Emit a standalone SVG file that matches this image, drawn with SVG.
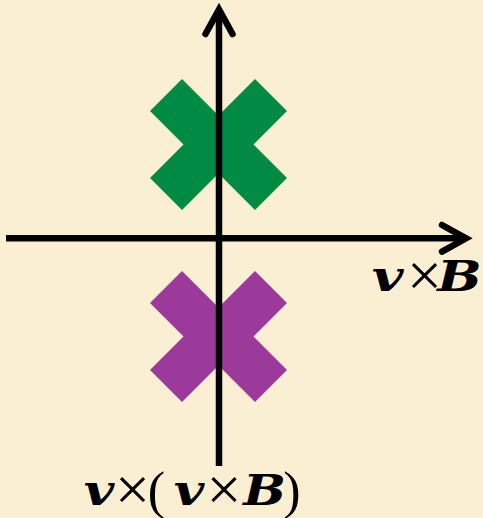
<svg xmlns="http://www.w3.org/2000/svg" width="483" height="518" viewBox="0 0 483 518">
<defs>
<style>
.bg{fill:#faefd3}
.axis{fill:none;stroke:#000;stroke-width:6.5}
.head{fill:none;stroke:#000;stroke-width:6.5;stroke-linecap:round;stroke-linejoin:miter}
.lbl{font-family:"DejaVu Serif","Liberation Serif",serif;font-weight:bold;font-style:italic;font-size:42px;fill:#000}
.op{font-family:"Liberation Serif","Times New Roman",serif;font-size:62px;fill:#000}
.par{font-family:"Liberation Serif","Times New Roman",serif;font-size:52px;fill:#000}
</style>
<polygon id="xshape" points="0,-29 36.5,-65.5 68.5,-33.5 35,0 68.5,33.5 36.5,65.5 0,29 -36.5,65.5 -68.5,33.5 -35,0 -68.5,-33.5 -36.5,-65.5"/>
</defs>
<rect class="bg" x="0" y="0" width="483" height="518"/>
<g id="green-x"><use href="#xshape" transform="translate(218.5,144.5)" fill="#008a43"/></g>
<g id="purple-x"><use href="#xshape" transform="translate(218.5,336.5)" fill="#9b3a9b"/></g>
<g id="connectors">
<line class="axis" x1="6" y1="238.3" x2="464" y2="238.3"/>
<polyline class="head" points="442,225 466,238.3 442,251.6"/>
<line class="axis" x1="219" y1="466" x2="219" y2="11"/>
<polyline class="head" points="205.5,34 219,9.5 232.5,34"/>
</g>
<g id="label-vxB">
<text class="lbl" transform="translate(387.5,291) scale(1.3,1)" text-anchor="middle">v</text>
<text class="op" x="424.5" y="296" text-anchor="middle">×</text>
<text class="lbl" transform="translate(459.5,291) scale(1.25,1)" text-anchor="middle">B</text>
</g>
<g id="label-vxvxB">
<text class="lbl" transform="translate(99,505) scale(1.25,1)" text-anchor="middle">v</text>
<text class="op" x="132.5" y="510" text-anchor="middle">×</text>
<text class="par" x="156.5" y="508" text-anchor="middle">(</text>
<text class="lbl" transform="translate(189,505) scale(1.25,1)" text-anchor="middle">v</text>
<text class="op" x="224" y="510" text-anchor="middle">×</text>
<text class="lbl" transform="translate(264.5,505) scale(1.2,1)" text-anchor="middle">B</text>
<text class="par" x="292" y="508" text-anchor="middle">)</text>
</g>
</svg>
